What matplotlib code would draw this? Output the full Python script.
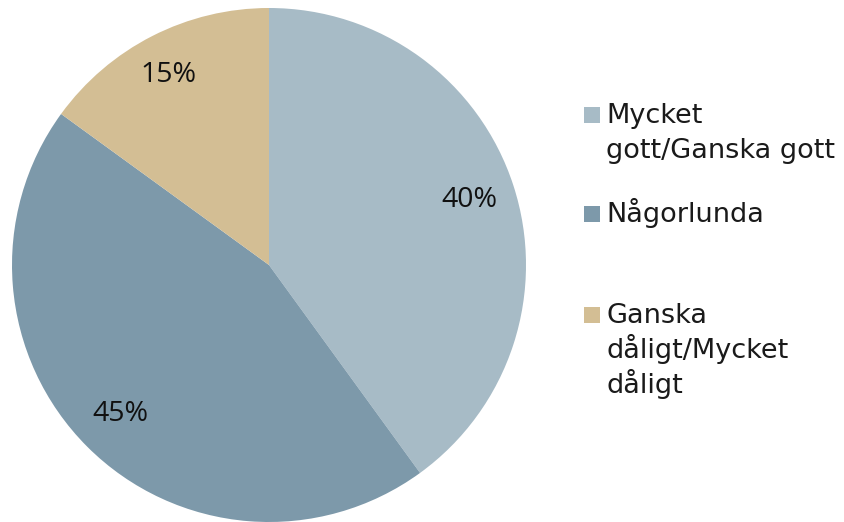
import matplotlib
matplotlib.use('Agg')
import matplotlib.pyplot as plt
from matplotlib.patches import Rectangle

labels = ['Mycket\ngott/Ganska gott', 'Någorlunda', 'Ganska\ndåligt/Mycket\ndåligt']
values = [40, 45, 15]
colors = ['#A7BBC6', '#7D99AA', '#D3BE94']

W, H = 844, 522
fig = plt.figure(figsize=(W/100, H/100), dpi=100)

# pie axes: centre (269, 265) px, radius 257 px
cx, cy, r = 269, 265, 257
ax = fig.add_axes([(cx-r)/W, (H-cy-r)/H, 2*r/W, 2*r/H])
wedges, texts, autotexts = ax.pie(values, colors=colors, startangle=90, counterclock=False,
                                  autopct='%1.0f%%', pctdistance=0.82,
                                  textprops=dict(fontsize=20.5, family='Open Sans', color='#111111'))
ax.set_xlim(-1, 1)
ax.set_ylim(-1, 1)
ax.set_aspect('equal')
ax.axis('off')

# small nudge for the 15% label, like the original
autotexts[2].set_position((-0.39, 0.74))

# legend drawn by hand (square + one text per line)
leg_base = [123, 222, 323]   # px from top, baseline of first line
sq = 16
lh = 35
for lab, c, base in zip(labels, colors, leg_base):
    fig.patches.append(Rectangle((584/W, 1-base/H), sq/W, sq/H, transform=fig.transFigure,
                                 facecolor=c, edgecolor='none'))
    for i, line in enumerate(lab.split('\n')):
        fig.text(606/W, 1-(base+i*lh)/H, line, fontsize=19.5, family='DejaVu Sans',
                 color='#1a1a1a', va='baseline', ha='left')

fig.savefig('out.png', dpi=100)
